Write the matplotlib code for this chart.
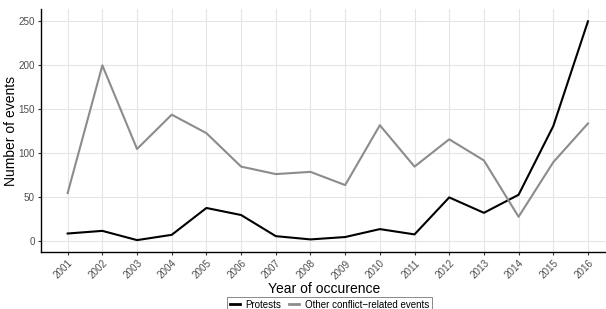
import matplotlib
matplotlib.use("Agg")
import matplotlib.pyplot as plt

plt.rcParams["font.family"] = ["Liberation Sans", "DejaVu Sans"]

years = list(range(2001, 2017))
protests = [9, 12, 1.5, 7.5, 38, 30, 6, 2.3, 5, 14, 8, 50, 32.5, 53, 131, 250]
other_events = [55, 200, 105, 144, 123, 85, 76.5, 79, 64, 132, 85, 116, 92, 28, 90, 134]
y_ticks = [0, 50, 100, 150, 200, 250]

fig = plt.figure(figsize=(6.06, 3.09), dpi=100)
ax = fig.add_axes([41.3 / 606, 1 - 252 / 309, 1 - 41.3 / 606, (252 - 9) / 309])

ax.plot(years, protests, color="black", lw=1.5, label="Protests")
ax.plot(years, other_events, color="#8c8c8c", lw=1.5, label="Other conflict\u2212related events")

ax.set_xlim(2000.24, 2016.52)
ax.set_ylim(-12, 264)
ax.set_xticks(years)
ax.set_xticklabels([str(y) for y in years], rotation=45, ha="right", rotation_mode="anchor")
ax.set_yticks(y_ticks)

ax.grid(True, color="#e5e5e5", lw=0.8)
ax.set_axisbelow(True)
for side in ["top", "right"]:
    ax.spines[side].set_visible(False)
for side in ["left", "bottom"]:
    ax.spines[side].set_color("black")
    ax.spines[side].set_linewidth(1.0)
ax.tick_params(axis="both", labelsize=7.1, labelcolor="#4d4d4d", color="#333333",
               length=2.5, width=0.8, pad=2)

ax.set_xlabel("Year of occurence", fontsize=10, labelpad=1)
ax.set_ylabel("Number of events", fontsize=10)
ax.yaxis.set_label_coords(-0.041, 0.5)

# legend sits just below the x label, near the bottom edge as in the original
leg = ax.legend(loc="upper center", bbox_to_anchor=(0.51, -0.165), ncol=2,
                fontsize=7, frameon=True, fancybox=False, edgecolor="#555555",
                handlelength=1.0, handletextpad=0.6, columnspacing=0.8,
                borderpad=0.3)
leg.get_frame().set_linewidth(0.6)
for line in leg.get_lines():
    line.set_linewidth(2)

fig.savefig("out.png", dpi=100)
